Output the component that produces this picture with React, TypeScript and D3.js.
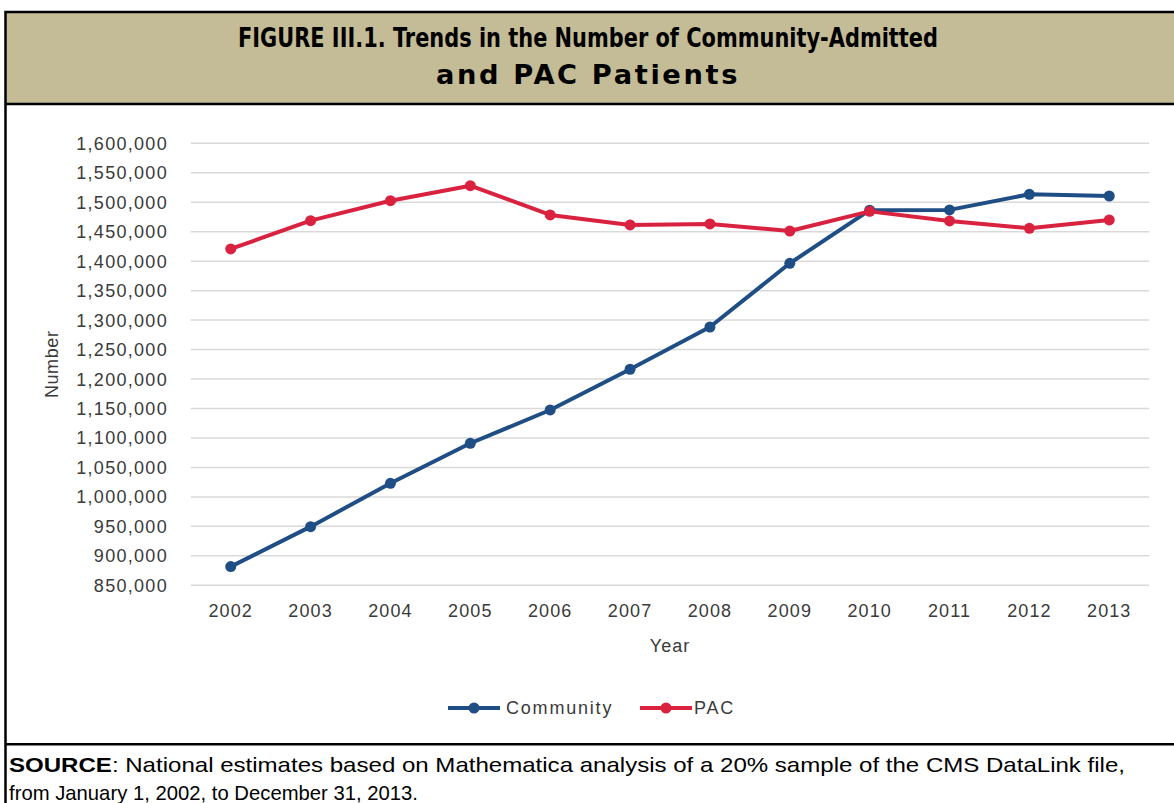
import React from "react";
import * as d3 from "d3";

const years = ["2002","2003","2004","2005","2006","2007","2008","2009","2010","2011","2012","2013"];
const community = [881700, 949500, 1023100, 1091000, 1147500, 1216600, 1288300, 1396400, 1486500, 1487000, 1513500, 1510600];
const pac = [1420700, 1468700, 1502600, 1528100, 1478400, 1461400, 1463100, 1451200, 1484500, 1468200, 1455800, 1469900];
const yTicks = [850000, 900000, 950000, 1000000, 1050000, 1100000, 1150000, 1200000, 1250000, 1300000, 1350000, 1400000, 1450000, 1500000, 1550000, 1600000];
const seriesNames = ["Community", "PAC"];
const seriesColors = ["#1F4E85", "#D9223F"];

const W = 1174, H = 803;
const plot = { left: 190.8, right: 1149.2, top: 143.3, bottom: 585.3 };

export default function App() {
  const x = d3.scaleBand<string>().domain(years).range([plot.left, plot.right]);
  const y = d3.scaleLinear().domain([850000, 1600000]).range([plot.bottom, plot.top]);
  const cx = (yr: string) => (x(yr) as number) + x.bandwidth() / 2;
  const line = d3.line<number>().x((_, i) => cx(years[i])).y((v) => y(v));
  const fmt = d3.format(",");
  const series = [community, pac];
  const axisFont = "'Liberation Sans', Arial, sans-serif";
  const titleFont = "'DejaVu Sans', Arial, sans-serif";
  const txtColor = "#3a3a3a";

  return (
    <svg width={W} height={H} style={{ position: "absolute", left: 0, top: 0, background: "#fff" }}>
      {/* title bar */}
      <rect x={5.5} y={12} width={1170} height={92} fill="#C4BC96" />
      <text x={588} y={47} textAnchor="middle" fontFamily={titleFont} fontWeight="bold" fontSize={26} textLength={700} lengthAdjust="spacingAndGlyphs" fill="#000">FIGURE III.1. Trends in the Number of Community-Admitted</text>
      <text x={588} y={84} textAnchor="middle" fontFamily={titleFont} fontWeight="bold" fontSize={26} letterSpacing={2.5} textLength={304} lengthAdjust="spacingAndGlyphs" fill="#000">and PAC Patients</text>
      {/* borders */}
      <rect x={5.5} y={12} width={1172} height={800} fill="none" stroke="#000" strokeWidth={2.5} />
      <line x1={5} x2={1174} y1={104} y2={104} stroke="#000" strokeWidth={2.5} />
      <line x1={5} x2={1174} y1={744.3} y2={744.3} stroke="#000" strokeWidth={2.5} />

      {/* gridlines */}
      {yTicks.map((t) => (
        <line key={t} x1={plot.left} x2={plot.right} y1={y(t)} y2={y(t)} stroke="#D9D9D9" strokeWidth={1.5} />
      ))}
      {/* y tick labels */}
      {yTicks.map((t) => (
        <text key={"l" + t} x={168} y={y(t)} dy="0.36em" textAnchor="end" fontFamily={axisFont} fontSize={18} letterSpacing={1.3} fill={txtColor}>{fmt(t)}</text>
      ))}
      {/* x tick labels */}
      {years.map((yr) => (
        <text key={yr} x={cx(yr)} y={617} textAnchor="middle" fontFamily={axisFont} fontSize={18} letterSpacing={1.1} fill={txtColor}>{yr}</text>
      ))}
      <text x={670} y={652} textAnchor="middle" fontFamily={axisFont} fontSize={18} letterSpacing={1} fill={txtColor}>Year</text>
      <text transform={`translate(58,${(plot.top + plot.bottom) / 2}) rotate(-90)`} textAnchor="middle" fontFamily={axisFont} fontSize={18} letterSpacing={0.6} fill={txtColor}>Number</text>

      {/* series */}
      {series.map((s, si) => (
        <g key={si}>
          <path d={line(s) as string} fill="none" stroke={seriesColors[si]} strokeWidth={4} strokeLinejoin="round" />
          {s.map((v, i) => (
            <circle key={i} cx={cx(years[i])} cy={y(v)} r={5.5} fill={seriesColors[si]} />
          ))}
        </g>
      ))}

      {/* legend */}
      {[{ x0: 448, tx: 506 }, { x0: 640, tx: 694 }].map((p, i) => (
        <g key={i}>
          <line x1={p.x0} x2={p.x0 + 52} y1={708} y2={708} stroke={seriesColors[i]} strokeWidth={4} />
          <circle cx={p.x0 + 26} cy={708} r={5.5} fill={seriesColors[i]} />
          <text x={p.tx} y={708} dy="0.36em" fontFamily={axisFont} fontSize={18} letterSpacing={1.8} fill={txtColor}>{seriesNames[i]}</text>
        </g>
      ))}

      {/* source */}
      <text x={9} y={772} fontFamily="'Liberation Sans', Arial, sans-serif" fontSize={21} textLength={1116} lengthAdjust="spacingAndGlyphs" fill="#000">
        <tspan fontWeight="bold">SOURCE</tspan>
        <tspan>:  National estimates based on Mathematica analysis of a 20% sample of the CMS DataLink file,</tspan>
      </text>
      <text x={9} y={800} fontFamily="'Liberation Sans', Arial, sans-serif" fontSize={21} textLength={409} lengthAdjust="spacingAndGlyphs" fill="#000">from January 1, 2002, to December 31, 2013.</text>
    </svg>
  );
}
